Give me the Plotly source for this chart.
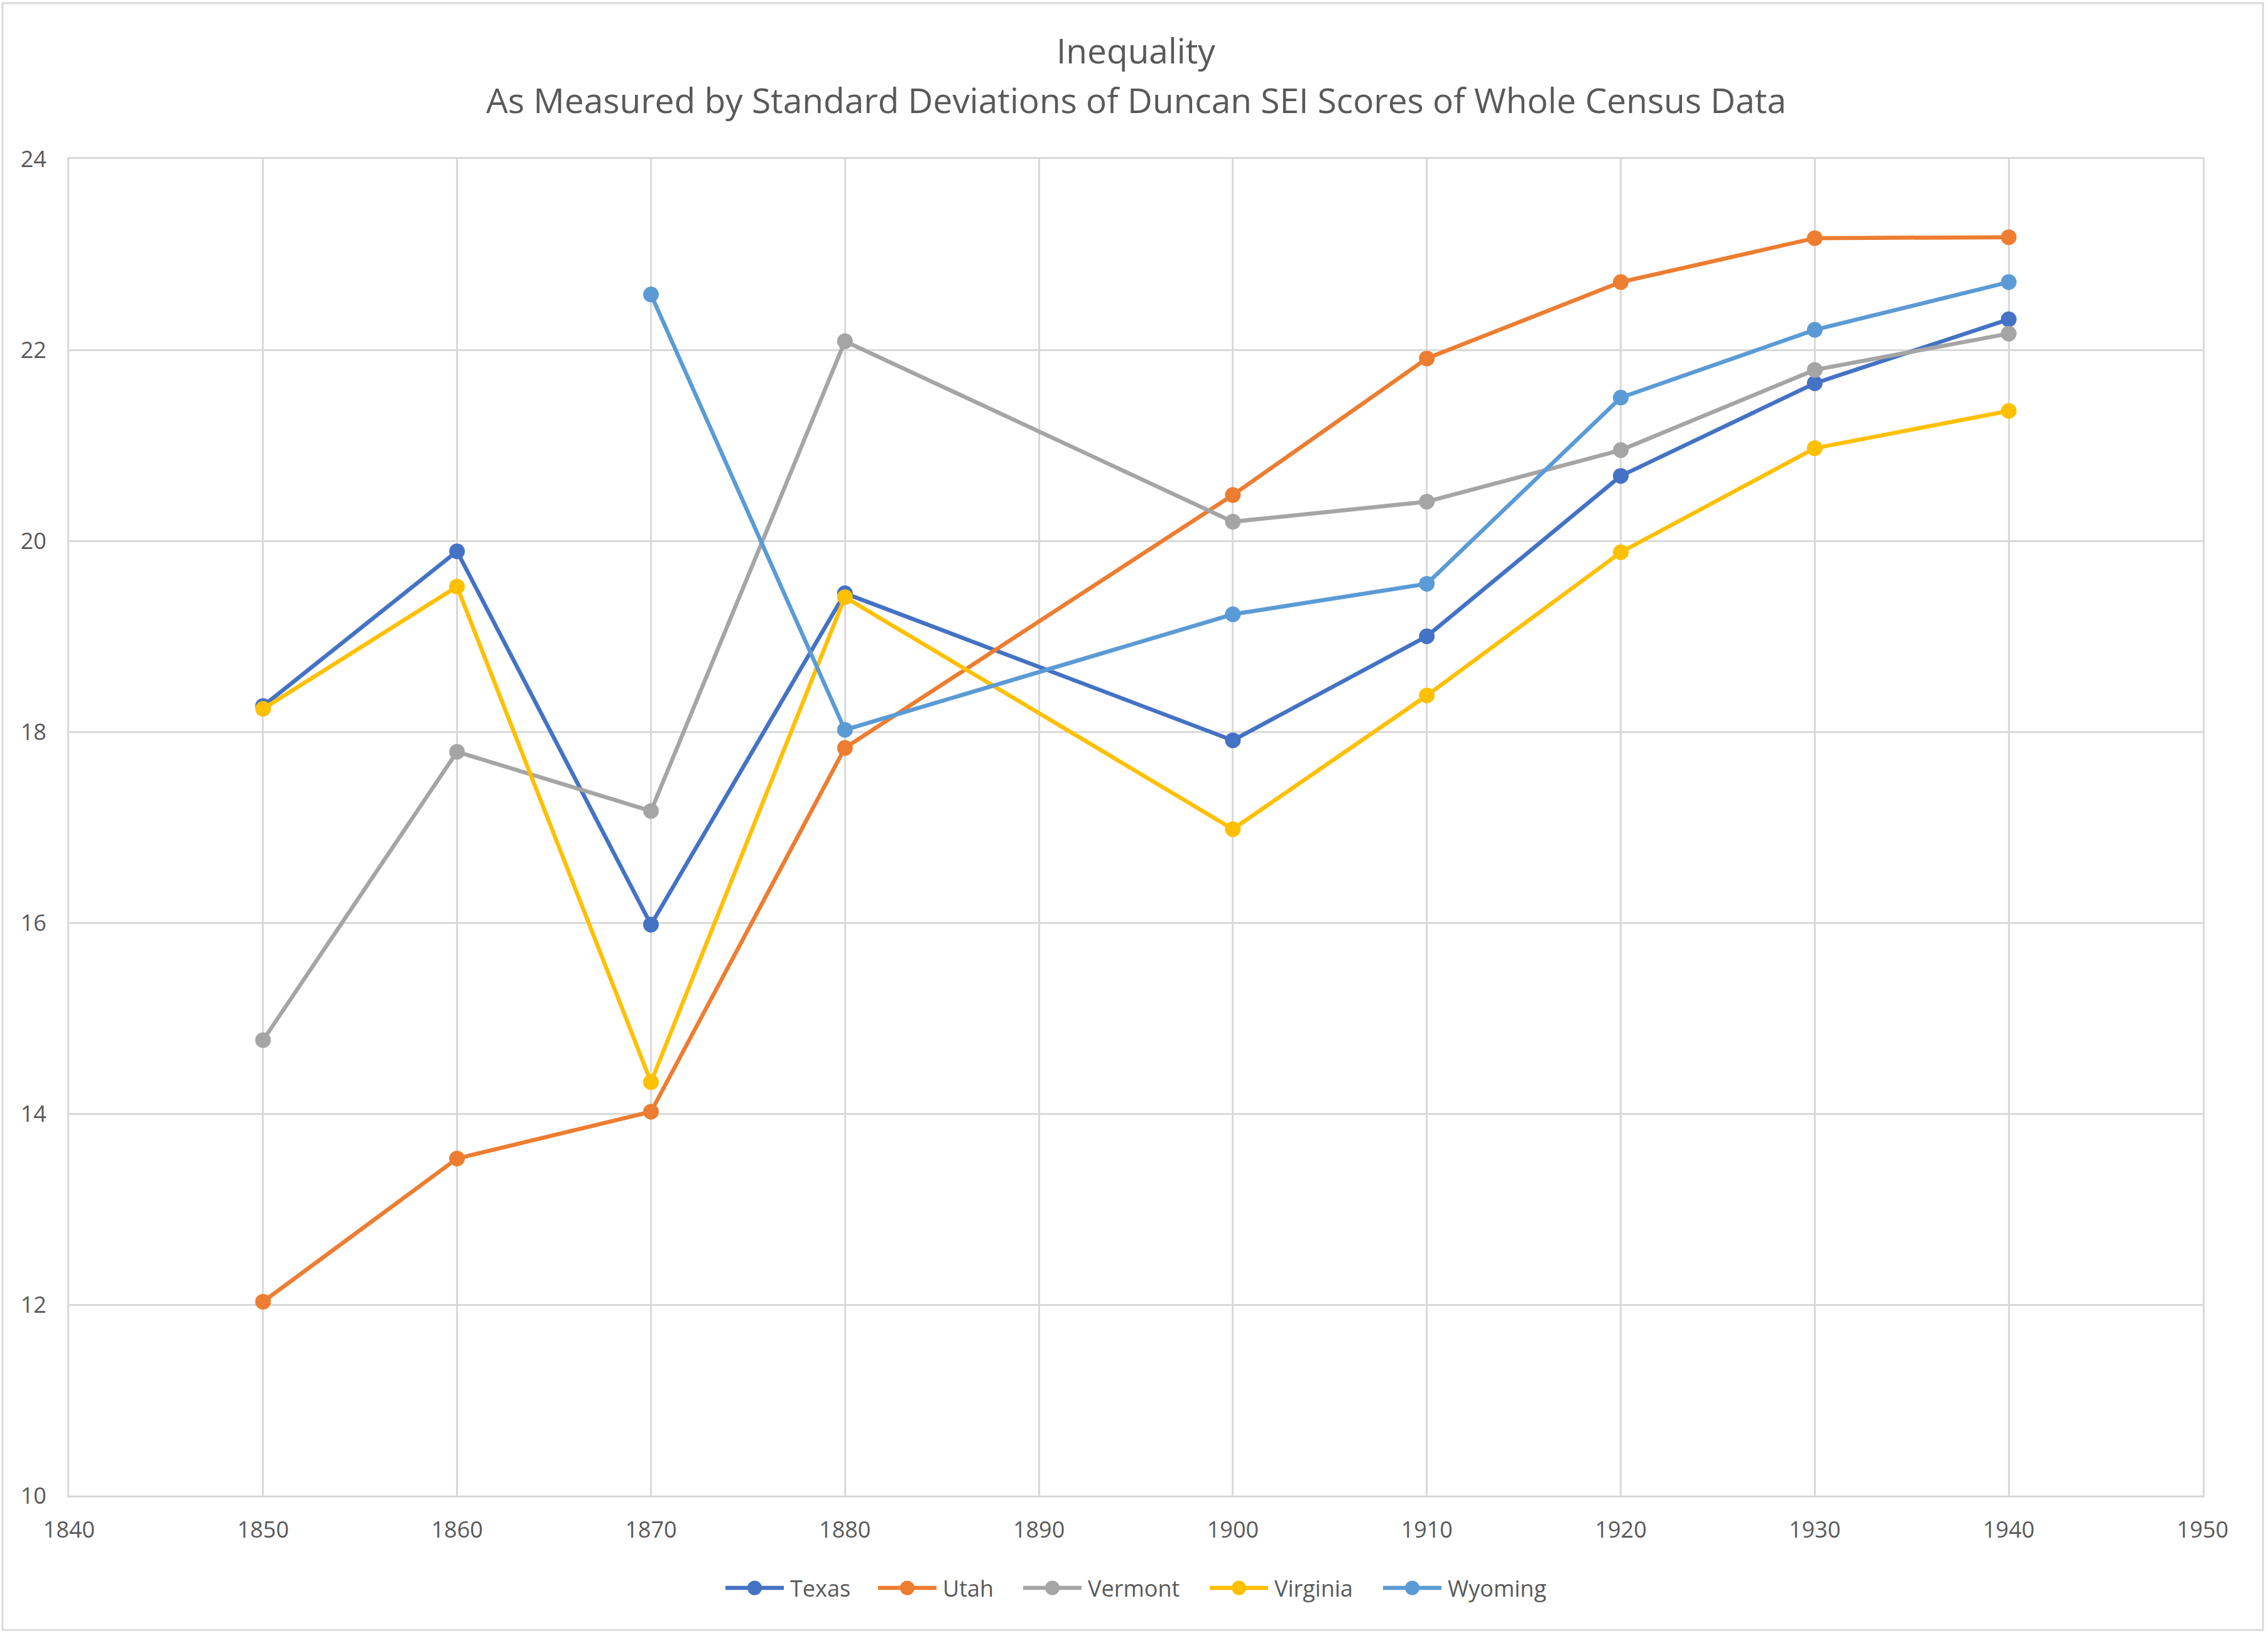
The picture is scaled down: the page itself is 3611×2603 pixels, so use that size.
import plotly.graph_objects as go

years = [1850, 1860, 1870, 1880, 1900, 1910, 1920, 1930, 1940]

texas = [18.27, 19.89, 15.98, 19.45, 17.91, 19.00, 20.68, 21.65, 22.32]
utah = [12.03, 13.53, 14.02, 17.83, 20.48, 21.91, 22.71, 23.17, 23.18]
vermont = [14.77, 17.79, 17.17, 22.09, 20.20, 20.41, 20.95, 21.79, 22.17]
virginia = [18.24, 19.52, 14.33, 19.41, 16.98, 18.38, 19.88, 20.97, 21.36]
wyoming = [None, None, 22.58, 18.02, 19.23, 19.55, 21.50, 22.21, 22.71]

series_names = ["Texas", "Utah", "Vermont", "Virginia", "Wyoming"]
series_values = [texas, utah, vermont, virginia, wyoming]
series_colors = ["#4472C4", "#ED7D31", "#A5A5A5", "#FFC000", "#5B9BD5"]

x_ticks = [1840, 1850, 1860, 1870, 1880, 1890, 1900, 1910, 1920, 1930, 1940, 1950]
y_ticks = [10, 12, 14, 16, 18, 20, 22, 24]

title_line1 = "Inequality"
title_line2 = "As Measured by Standard Deviations of Duncan SEI Scores of Whole Census Data"

FONT = "Open Sans"
TEXT = "#595959"
GRID = "#D9D9D9"

fig = go.Figure()
for name, vals, col in zip(series_names, series_values, series_colors):
    fig.add_trace(go.Scatter(
        x=years, y=vals, name=name, mode="lines+markers",
        line=dict(color=col, width=6.5),
        marker=dict(color=col, size=25),
        connectgaps=False, showlegend=False,
    ))

W, H = 3611, 2603
ml, mr, mt, mb = 110, 104, 253, 222
pw, ph = W - ml - mr, H - mt - mb

def px_x(px):
    return (px - ml) / pw

def px_y(py):
    return (H - mb - py) / ph

shapes = [
    dict(type="rect", xref="paper", yref="paper",
         x0=px_x(4), x1=px_x(3603), y0=px_y(2595), y1=px_y(5),
         line=dict(color="#D9D9D9", width=3), fillcolor="rgba(0,0,0,0)", layer="below"),
]
annotations = [
    dict(text=title_line1, x=0.5, y=px_y(80), xref="paper", yref="paper",
         xanchor="center", yanchor="middle", showarrow=False,
         font=dict(size=55, color=TEXT, family=FONT)),
    dict(text=title_line2, x=0.5, y=px_y(159), xref="paper", yref="paper",
         xanchor="center", yanchor="middle", showarrow=False,
         font=dict(size=55, color=TEXT, family=FONT)),
]

# custom legend (Excel-style long line symbols)
legend_starts = [1155, 1398, 1629, 1926, 2202]
leg_y = 2528
line_len = 93
r = 11.5
for name, col, sx in zip(series_names, series_colors, legend_starts):
    shapes.append(dict(type="line", xref="paper", yref="paper",
                       x0=px_x(sx), x1=px_x(sx + line_len), y0=px_y(leg_y), y1=px_y(leg_y),
                       line=dict(color=col, width=6.5)))
    cx = sx + line_len / 2
    shapes.append(dict(type="circle", xref="paper", yref="paper",
                       x0=px_x(cx - r), x1=px_x(cx + r), y0=px_y(leg_y + r), y1=px_y(leg_y - r),
                       line=dict(color=col, width=0), fillcolor=col))
    annotations.append(dict(text=name, x=px_x(sx + line_len + 8), y=px_y(leg_y),
                            xref="paper", yref="paper", xanchor="left", yanchor="middle",
                            showarrow=False, font=dict(size=36, color=TEXT, family=FONT)))

fig.update_layout(
    width=W, height=H,
    margin=dict(l=ml, r=mr, t=mt, b=mb),
    paper_bgcolor="white", plot_bgcolor="white",
    font=dict(family=FONT, color=TEXT, size=36),
    showlegend=False,
    annotations=annotations,
    shapes=shapes,
)

fig.update_xaxes(
    range=[1840, 1950], tickvals=x_ticks, ticktext=[str(t) for t in x_ticks],
    showgrid=True, gridcolor=GRID, gridwidth=3,
    showline=True, linecolor=GRID, linewidth=3, mirror=True,
    zeroline=False, ticks="", ticklen=0, ticklabelstandoff=21,
    tickfont=dict(size=36, color=TEXT, family=FONT),
)
fig.update_yaxes(
    range=[10, 24], tickvals=y_ticks, ticktext=[str(t) for t in y_ticks],
    showgrid=True, gridcolor=GRID, gridwidth=3,
    showline=True, linecolor=GRID, linewidth=3, mirror=True,
    zeroline=False, ticks="", ticklen=0, ticklabelstandoff=26,
    tickfont=dict(size=36, color=TEXT, family=FONT),
)

fig.write_html("out.html", config={"displayModeBar": False},
               post_script="document.body.style.margin='0';")
